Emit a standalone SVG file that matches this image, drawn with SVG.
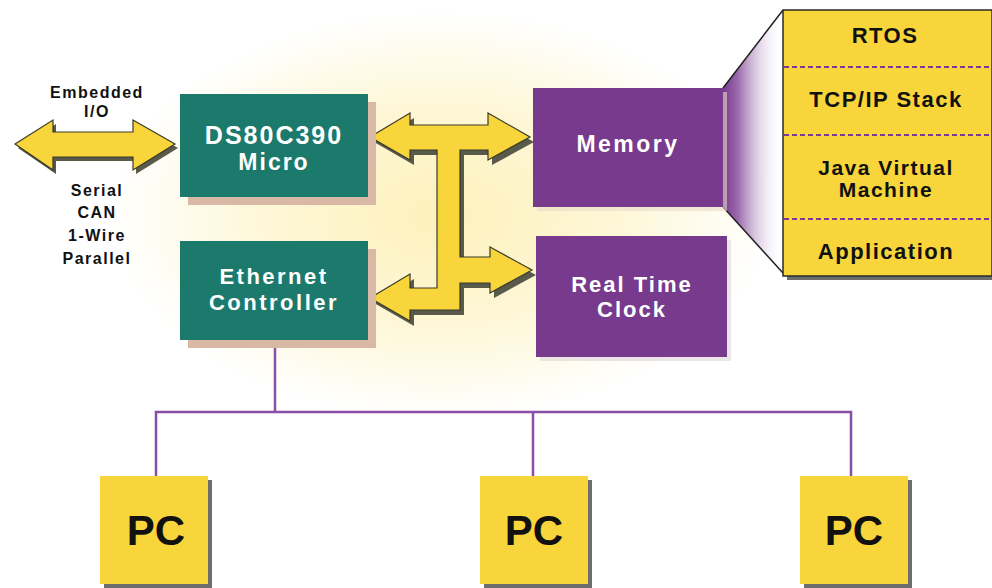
<svg xmlns="http://www.w3.org/2000/svg" width="992" height="588" viewBox="0 0 992 588">
<defs>
<radialGradient id="glow" cx="440" cy="215" r="330" gradientUnits="userSpaceOnUse" gradientTransform="translate(440 215) scale(1 0.62) translate(-440 -215)">
<stop offset="0" stop-color="#fdf1bb"/>
<stop offset="0.55" stop-color="#fef7d8"/>
<stop offset="1" stop-color="#ffffff"/>
</radialGradient>
<linearGradient id="funnel" x1="723" y1="0" x2="783" y2="0" gradientUnits="userSpaceOnUse">
<stop offset="0" stop-color="#7a3a8e"/>
<stop offset="0.25" stop-color="#9b6aad"/>
<stop offset="1" stop-color="#ffffff" stop-opacity="0"/>
</linearGradient>
<style>
.t{font-family:"Liberation Sans",Arial,sans-serif;font-weight:bold;text-anchor:middle}
.w{fill:#ffffff}
.k{fill:#111111}
.teal{fill:#1b7a6c}
.purp{fill:#773a8c}
.yel{fill:#f8d53a}
.pcsh{fill:#6d6d6d}
.tsh{fill:#d9b8a6}
.wire{stroke:#8a4ea6;stroke-width:2.5;fill:none}
.arrow{fill:#f8d53a;stroke:#3a3a2a;stroke-width:1.2;stroke-linejoin:miter}
.ashadow{fill:#5a5a4a}
.dash{stroke:#7a3a8e;stroke-width:2;stroke-dasharray:5 3}
</style>
</defs>
<rect width="992" height="588" fill="#ffffff"/>
<ellipse cx="440" cy="215" rx="360" ry="220" fill="url(#glow)"/>

<g id="connectors">
<polyline class="wire" points="275,340 275,412"/>
<polyline class="wire" points="156,476 156,412 851,412 851,476"/>
<line class="wire" x1="533" y1="412" x2="533" y2="476"/>
<polygon class="ashadow" transform="translate(3,4)" points="15,144 53,120 53,132 133,132 133,120 175,144 133,170 133,157 53,157 53,170"/>
<polygon class="arrow" points="15,144 53,120 53,132 133,132 133,120 175,144 133,170 133,157 53,157 53,170"/>
<polygon class="ashadow" transform="translate(4,5)" points="370,137 410,113 410,125 488,125 488,113 530,137 488,160 488,150 460,150 460,257 490,257 490,247 532,270 490,293 490,283 460,283 460,310 410,310 410,321 370,298 410,274 410,288 437,288 437,150 410,150 410,160"/>
<polygon class="arrow" points="370,137 410,113 410,125 488,125 488,113 530,137 488,160 488,150 460,150 460,257 490,257 490,247 532,270 490,293 490,283 460,283 460,310 410,310 410,321 370,298 410,274 410,288 437,288 437,150 410,150 410,160"/>
</g>

<g id="io-labels">
<text class="t k" x="97" y="98" font-size="16" letter-spacing="1.5">Embedded</text>
<text class="t k" x="97" y="117" font-size="16" letter-spacing="1.5">I/O</text>
<text class="t k" x="97" y="196" font-size="16" letter-spacing="1.5">Serial</text>
<text class="t k" x="97" y="218" font-size="16" letter-spacing="1.5">CAN</text>
<text class="t k" x="97" y="241" font-size="16" letter-spacing="1.5">1-Wire</text>
<text class="t k" x="97" y="264" font-size="16" letter-spacing="1.5">Parallel</text>
</g>

<g id="micro">
<rect class="tsh" x="188" y="102" width="188" height="103"/>
<rect class="teal" x="180" y="94" width="188" height="103"/>
<text class="t w" x="274" y="144" font-size="25" letter-spacing="2">DS80C390</text>
<text class="t w" x="274" y="170" font-size="23" letter-spacing="2">Micro</text>
</g>

<g id="ethernet">
<rect class="tsh" x="188" y="249" width="188" height="99"/>
<rect class="teal" x="180" y="241" width="188" height="99"/>
<text class="t w" x="274" y="284" font-size="22" letter-spacing="2.5">Ethernet</text>
<text class="t w" x="274" y="310" font-size="22" letter-spacing="2.5">Controller</text>
</g>

<g id="stack-funnel">
<polygon points="723,88 783,10 783,274 723,207" fill="url(#funnel)"/>
<line x1="723" y1="88" x2="783" y2="10" stroke="#222" stroke-width="1.5"/>
<line x1="723" y1="207" x2="783" y2="273" stroke="#222" stroke-width="1.5"/>
</g>

<g id="memory">
<rect x="537" y="92" width="190" height="119" fill="#e8dcc8" opacity="0.6"/>
<rect class="purp" x="533" y="88" width="190" height="119"/>
<text class="t w" x="628" y="152" font-size="23" letter-spacing="2.5">Memory</text>
</g>

<g id="rtc">
<rect x="540" y="240" width="191" height="121" fill="#e0d4dc" opacity="0.6"/>
<rect class="purp" x="536" y="236" width="191" height="121"/>
<text class="t w" x="632" y="292" font-size="22" letter-spacing="2">Real Time</text>
<text class="t w" x="632" y="317" font-size="22" letter-spacing="2">Clock</text>
</g>

<g id="stack">
<rect class="pcsh" x="787" y="14" width="205" height="266"/>
<rect class="yel" x="783" y="10" width="209" height="266" stroke="#2a2a2a" stroke-width="1.5"/>
<line class="dash" x1="784" y1="67" x2="992" y2="67"/>
<line class="dash" x1="784" y1="135" x2="992" y2="135"/>
<line class="dash" x1="784" y1="219" x2="992" y2="219"/>
<text class="t k" x="885" y="43" font-size="22" letter-spacing="1.5">RTOS</text>
<text class="t k" x="886" y="107" font-size="22" letter-spacing="1.5">TCP/IP Stack</text>
<text class="t k" x="886" y="175" font-size="21" letter-spacing="1.5">Java Virtual</text>
<text class="t k" x="886" y="197" font-size="21" letter-spacing="1.5">Machine</text>
<text class="t k" x="886" y="259" font-size="22" letter-spacing="1.5">Application</text>
</g>

<g id="pc1">
<rect class="pcsh" x="104" y="480" width="108" height="108"/>
<rect class="yel" x="100" y="476" width="108" height="108"/>
<text class="t k" x="156" y="545" font-size="42">PC</text>
</g>
<g id="pc2">
<rect class="pcsh" x="484" y="480" width="108" height="108"/>
<rect class="yel" x="480" y="476" width="108" height="108"/>
<text class="t k" x="534" y="545" font-size="42">PC</text>
</g>
<g id="pc3">
<rect class="pcsh" x="804" y="480" width="108" height="108"/>
<rect class="yel" x="800" y="476" width="108" height="108"/>
<text class="t k" x="854" y="545" font-size="42">PC</text>
</g>
</svg>
